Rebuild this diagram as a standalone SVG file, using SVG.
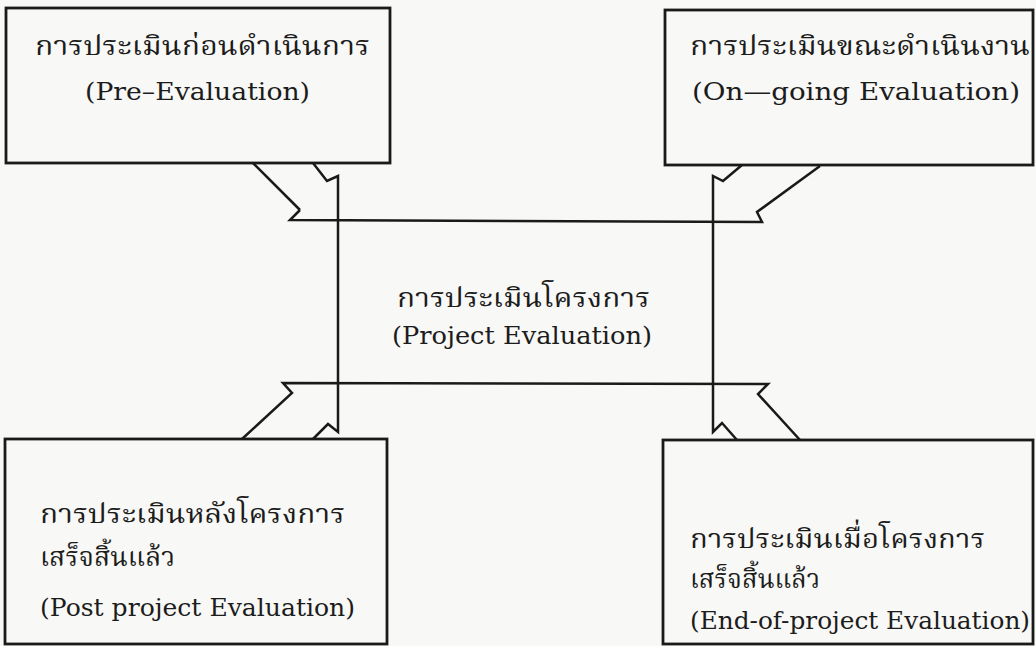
<svg xmlns="http://www.w3.org/2000/svg" width="1036" height="646" viewBox="0 0 1036 646">
  <style>
    .box { fill: none; stroke: #1a1a1a; stroke-width: 2.8; }
    .wire { fill: none; stroke: #1a1a1a; stroke-width: 2.5; stroke-linejoin: miter; }
    .th { font-family: "Noto Serif Thai", "Noto Sans Thai", "Loma", "Garuda", "Norasi", sans-serif; font-size: 27px; fill: #1c1c1c; }
    .en { font-family: "DejaVu Serif", "Liberation Serif", serif; font-size: 24px; fill: #1c1c1c; }
  </style>
  <rect x="0" y="0" width="1036" height="646" fill="#f8f8f6"/>

  <!-- links between the four phases and the central hub -->
  <g id="connectors">
    <!-- upper crossbar -->
    <polyline class="wire" points="300,210 290,220 762,222 757,212 820,166"/>
    <polyline class="wire" points="253,163 300,210"/>
    <!-- lower crossbar -->
    <polyline class="wire" points="242,439 292,393 283,383 768,384 758,394 800,440"/>
    <!-- left spine with hooks -->
    <polyline class="wire" points="313,163 327,181 338,176 338,432 328,424 313,439"/>
    <!-- right spine with hooks -->
    <polyline class="wire" points="742,165 723,181 713,176 713,432 722,423 737,440"/>
  </g>

  <g id="pre-evaluation">
    <rect class="box" x="6" y="8" width="384" height="155"/>
    <text class="th" x="35" y="55" textLength="335" lengthAdjust="spacingAndGlyphs">การประเมินก่อนดำเนินการ</text>
    <text class="en" x="85" y="100" textLength="225" lengthAdjust="spacingAndGlyphs">(Pre–Evaluation)</text>
  </g>

  <g id="ongoing-evaluation">
    <rect class="box" x="665" y="10" width="368" height="155"/>
    <text class="th" x="690" y="55" textLength="340" lengthAdjust="spacingAndGlyphs">การประเมินขณะดำเนินงาน</text>
    <text class="en" x="692" y="100" textLength="328" lengthAdjust="spacingAndGlyphs">(On—going Evaluation)</text>
  </g>

  <g id="project-evaluation">
    <text class="th" x="397" y="307" textLength="253" lengthAdjust="spacingAndGlyphs">การประเมินโครงการ</text>
    <text class="en" x="392" y="344" textLength="260" lengthAdjust="spacingAndGlyphs">(Project Evaluation)</text>
  </g>

  <g id="post-project-evaluation">
    <rect class="box" x="5" y="439" width="382" height="205"/>
    <text class="th" x="40" y="523" textLength="305" lengthAdjust="spacingAndGlyphs">การประเมินหลังโครงการ</text>
    <text class="th" x="40" y="566" textLength="135" lengthAdjust="spacingAndGlyphs">เสร็จสิ้นแล้ว</text>
    <text class="en" x="40" y="616" textLength="315" lengthAdjust="spacingAndGlyphs">(Post project Evaluation)</text>
  </g>

  <g id="end-of-project-evaluation">
    <rect class="box" x="663" y="440" width="370" height="204"/>
    <text class="th" x="690" y="548" textLength="295" lengthAdjust="spacingAndGlyphs">การประเมินเมื่อโครงการ</text>
    <text class="th" x="690" y="588" textLength="130" lengthAdjust="spacingAndGlyphs">เสร็จสิ้นแล้ว</text>
    <text class="en" x="690" y="629" textLength="340" lengthAdjust="spacingAndGlyphs">(End-of-project Evaluation)</text>
  </g>
</svg>
